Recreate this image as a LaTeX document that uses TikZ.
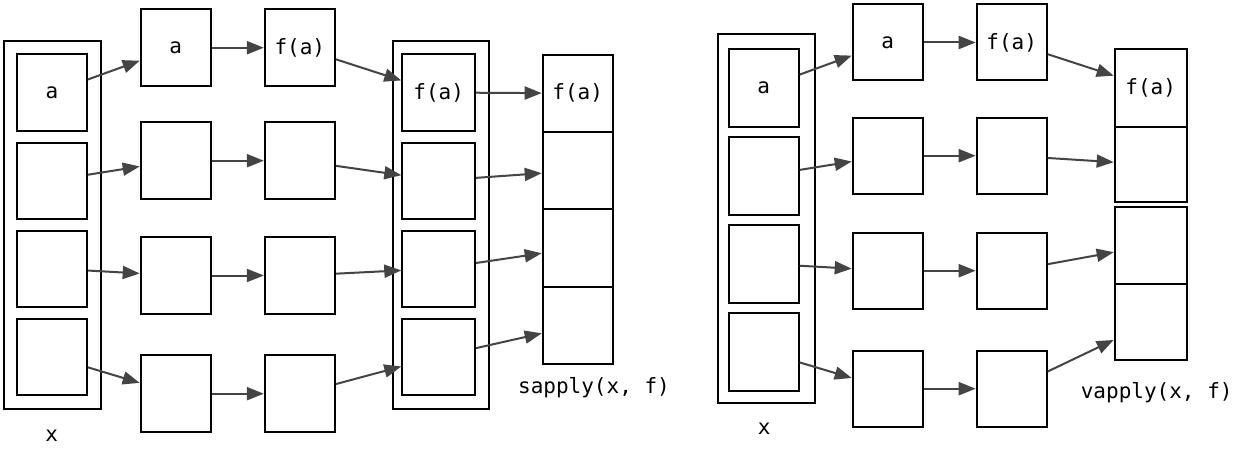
\documentclass[tikz,border=0pt]{standalone}
\usepackage{fontspec}
\setmonofont{DejaVu Sans Mono}
\usetikzlibrary{arrows.meta}
\definecolor{arrowgrey}{HTML}{444444}
\begin{document}
\begin{tikzpicture}[x=1pt,y=-1pt,
  box/.style={draw=black, line width=2pt, minimum width=70pt, minimum height=77pt, inner sep=0pt, font=\ttfamily\fontsize{21}{24}\selectfont},
  frame/.style={draw=black, line width=2pt, inner sep=0pt},
  conn/.style={draw=arrowgrey, line width=2pt, -{Triangle[length=17pt,width=13pt]}},
  lbl/.style={font=\ttfamily\fontsize{21}{24}\selectfont, inner sep=0pt}]
\path[fill=white, use as bounding box] (0,0) rectangle (1248,452);

% ===== Left: sapply =====
\node[frame, minimum width=96.4pt, minimum height=368pt] (xLo) at (52.5,224.7) {};
\node[box, minimum height=76pt] (xL1) at (51.85,92.5) {a};
\node[box, minimum height=76pt] (xL2) at (51.85,180.5) {};
\node[box, minimum height=76pt] (xL3) at (51.85,268.5) {};
\node[box, minimum height=76pt] (xL4) at (51.85,356.5) {};

\node[box] (aL1) at (175.7,47.7) {a};
\node[box] (aL2) at (175.7,160.7) {};
\node[box] (aL3) at (175.7,275.5) {};
\node[box] (aL4) at (175.7,393.7) {};

\node[box] (fL1) at (299.85,47.7) {f(a)};
\node[box] (fL2) at (299.85,160.7) {};
\node[box] (fL3) at (299.85,275.5) {};
\node[box] (fL4) at (299.85,393.7) {};

\node[frame, minimum width=96pt, minimum height=368pt] (yLo) at (440.7,224.7) {};
\node[box, minimum width=72.7pt, minimum height=76pt] (yL1) at (438.65,92.5) {f(a)};
\node[box, minimum width=72.7pt, minimum height=76pt] (yL2) at (438.65,180.5) {};
\node[box, minimum width=72.7pt, minimum height=76pt] (yL3) at (438.65,268.5) {};
\node[box, minimum width=72.7pt, minimum height=76pt] (yL4) at (438.65,356.5) {};

\node[box, minimum height=77.3pt] (sL1) at (577.7,93.35) {f(a)};
\node[box, minimum height=77.3pt] (sL2) at (577.7,170.65) {};
\node[box, minimum height=77.3pt] (sL3) at (577.7,247.95) {};
\node[box, minimum height=77.3pt] (sL4) at (577.7,325.25) {};

\node[lbl] (xLl) at (51.7,436) {x};
\node[lbl] (sLl) at (594,388) {sapply(x, f)};

\foreach \i in {1,...,4}{
  \draw[conn] (xL\i) -- (aL\i);
  \draw[conn] (aL\i) -- (fL\i);
  \draw[conn] (fL\i) -- (yL\i);
  \draw[conn] (yL\i) -- (sL\i);
}

% ===== Right: vapply =====
\node[frame, minimum width=96.7pt, minimum height=368.4pt] (xRo) at (766.7,218.5) {};
\node[box, minimum height=78pt] (xR1) at (763.7,87.7) {a};
\node[box, minimum height=78pt] (xR2) at (763.7,175.7) {};
\node[box, minimum height=78pt] (xR3) at (763.7,263.7) {};
\node[box, minimum height=78pt] (xR4) at (763.7,351.7) {};

\node[box, minimum height=76pt] (aR1) at (887.7,42.5) {a};
\node[box, minimum height=76pt] (aR2) at (887.7,155.7) {};
\node[box, minimum height=76pt] (aR3) at (887.7,270.7) {};
\node[box, minimum height=76pt] (aR4) at (887.7,388.7) {};

\node[box, minimum height=76pt] (fR1) at (1011.7,42.5) {f(a)};
\node[box, minimum height=76pt] (fR2) at (1011.7,155.7) {};
\node[box, minimum height=76pt] (fR3) at (1011.7,270.7) {};
\node[box, minimum height=76pt] (fR4) at (1011.7,388.7) {};

\node[box, minimum width=72pt, minimum height=78pt] (vR1) at (1150.7,87.7) {f(a)};
\node[box, minimum width=72pt, minimum height=75.6pt] (vR2) at (1150.7,164.5) {};
\node[box, minimum width=72pt, minimum height=77.6pt] (vR3) at (1150.7,245.5) {};
\node[box, minimum width=72pt, minimum height=76pt] (vR4) at (1150.7,322.3) {};

\node[lbl] (xRl) at (764.3,429) {x};
\node[lbl] (vRl) at (1156.7,393) {vapply(x, f)};

\foreach \i in {1,...,4}{
  \draw[conn] (xR\i) -- (aR\i);
  \draw[conn] (aR\i) -- (fR\i);
  \draw[conn] (fR\i) -- (vR\i);
}
\end{tikzpicture}
\end{document}
